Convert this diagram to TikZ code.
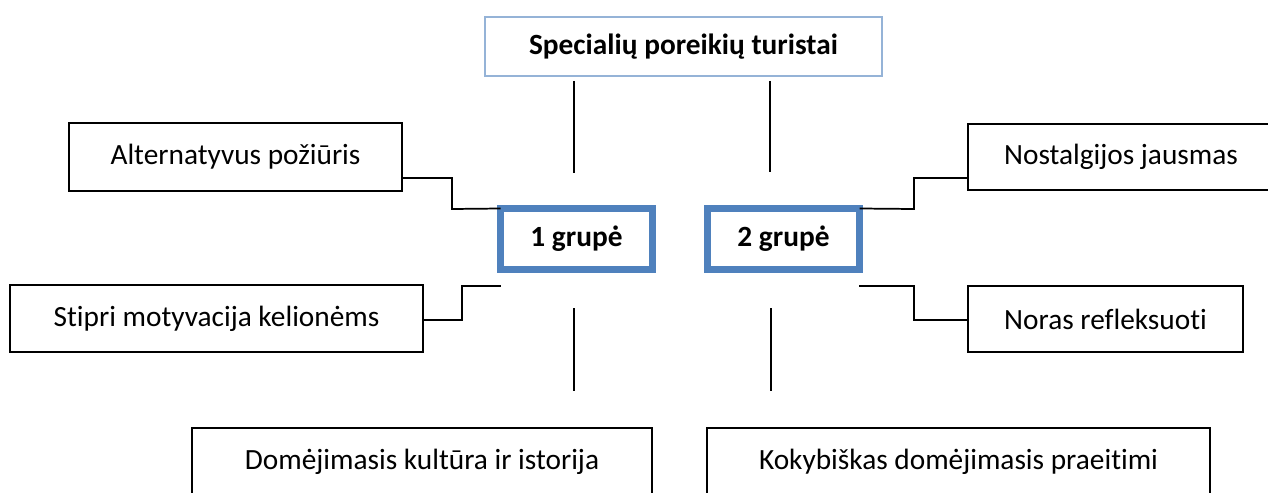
\documentclass[tikz,border=0pt]{standalone}
\usepackage{fontspec}
\setmainfont[Ligatures=NoCommon]{Carlito}
\usetikzlibrary{calc}
\definecolor{lightblue}{HTML}{95B3D7}
\definecolor{grpblue}{HTML}{4F81BD}
\begin{document}
\begin{tikzpicture}[x=0.375pt,y=-0.375pt,
  box/.style={draw=black, line width=0.65pt, rectangle, inner sep=0pt, outer sep=0pt,
              font=\fontsize{11}{13}\selectfont},
  topbox/.style={draw=lightblue, line width=0.8pt, rectangle, inner sep=0pt, outer sep=0pt,
              font=\fontsize{11}{13}\selectfont\bfseries},
  grp/.style={draw=grpblue, line width=2.6pt, rectangle, inner sep=0pt, outer sep=0pt,
              font=\fontsize{11}{13}\selectfont\bfseries},
  link/.style={draw=black, line width=0.65pt}]
\useasboundingbox (0,0) rectangle (1268,492);
\clip (0,0) rectangle (1268,492);

% nodes
\node[topbox, minimum width={397*0.375pt}, minimum height={59*0.375pt}] (top) at (683.5,46.5) {Specialių poreikių turistai};
\node[grp, minimum width={152*0.375pt}, minimum height={61*0.375pt}] (g1) at (576.5,239) {1 grupė};
\node[grp, minimum width={152*0.375pt}, minimum height={61*0.375pt}] (g2) at (783.5,239) {2 grupė};
\node[box, minimum width={333*0.375pt}, minimum height={68*0.375pt}] (alt) at (235.5,157) {Alternatyvus požiūris};
\node[box, minimum width={306*0.375pt}, minimum height={66*0.375pt}] (nost) at (1121,157) {Nostalgijos jausmas};
\node[box, minimum width={413*0.375pt}, minimum height={67*0.375pt}] (stip) at (216.5,318.5) {Stipri motyvacija kelionėms};
\node[box, minimum width={275*0.375pt}, minimum height={66*0.375pt}] (nor) at (1105.5,319) {Noras refleksuoti};
\node[box, minimum width={460*0.375pt}, minimum height={67*0.375pt}] (dom) at (422,461.5) {Domėjimasis kultūra ir istorija};
\node[box, minimum width={503*0.375pt}, minimum height={67*0.375pt}] (kok) at (958.5,461.5) {Kokybiškas domėjimasis praeitimi};

% free line ends
\coordinate (t1a) at (574,81);  \coordinate (t1b) at (574,173);
\coordinate (t2a) at (770,81);  \coordinate (t2b) at (770,172);
\coordinate (b1a) at (574,308); \coordinate (b1b) at (574,391);
\coordinate (b2a) at (771,308); \coordinate (b2b) at (771,391);
\coordinate (g1lo) at (501,286);
\coordinate (g2lo) at (859,286);

\draw[link] (t1a) -- (t1b);
\draw[link] (t2a) -- (t2b);
\draw[link] (b1a) -- (b1b);
\draw[link] (b2a) -- (b2b);

\draw[link] ($(alt.south east)+(0,-13)$) -| (452,209) -- (g1.north west);
\draw[link] ($(stip.east)+(0,1.5)$) -| (462,286) -- (g1lo);
\draw[link] ($(nost.south west)+(0,-12)$) -| (914,209) -- (g2.north east);
\draw[link] ($(nor.west)+(0,1)$) -| (914,286) -- (g2lo);
\end{tikzpicture}
\end{document}
